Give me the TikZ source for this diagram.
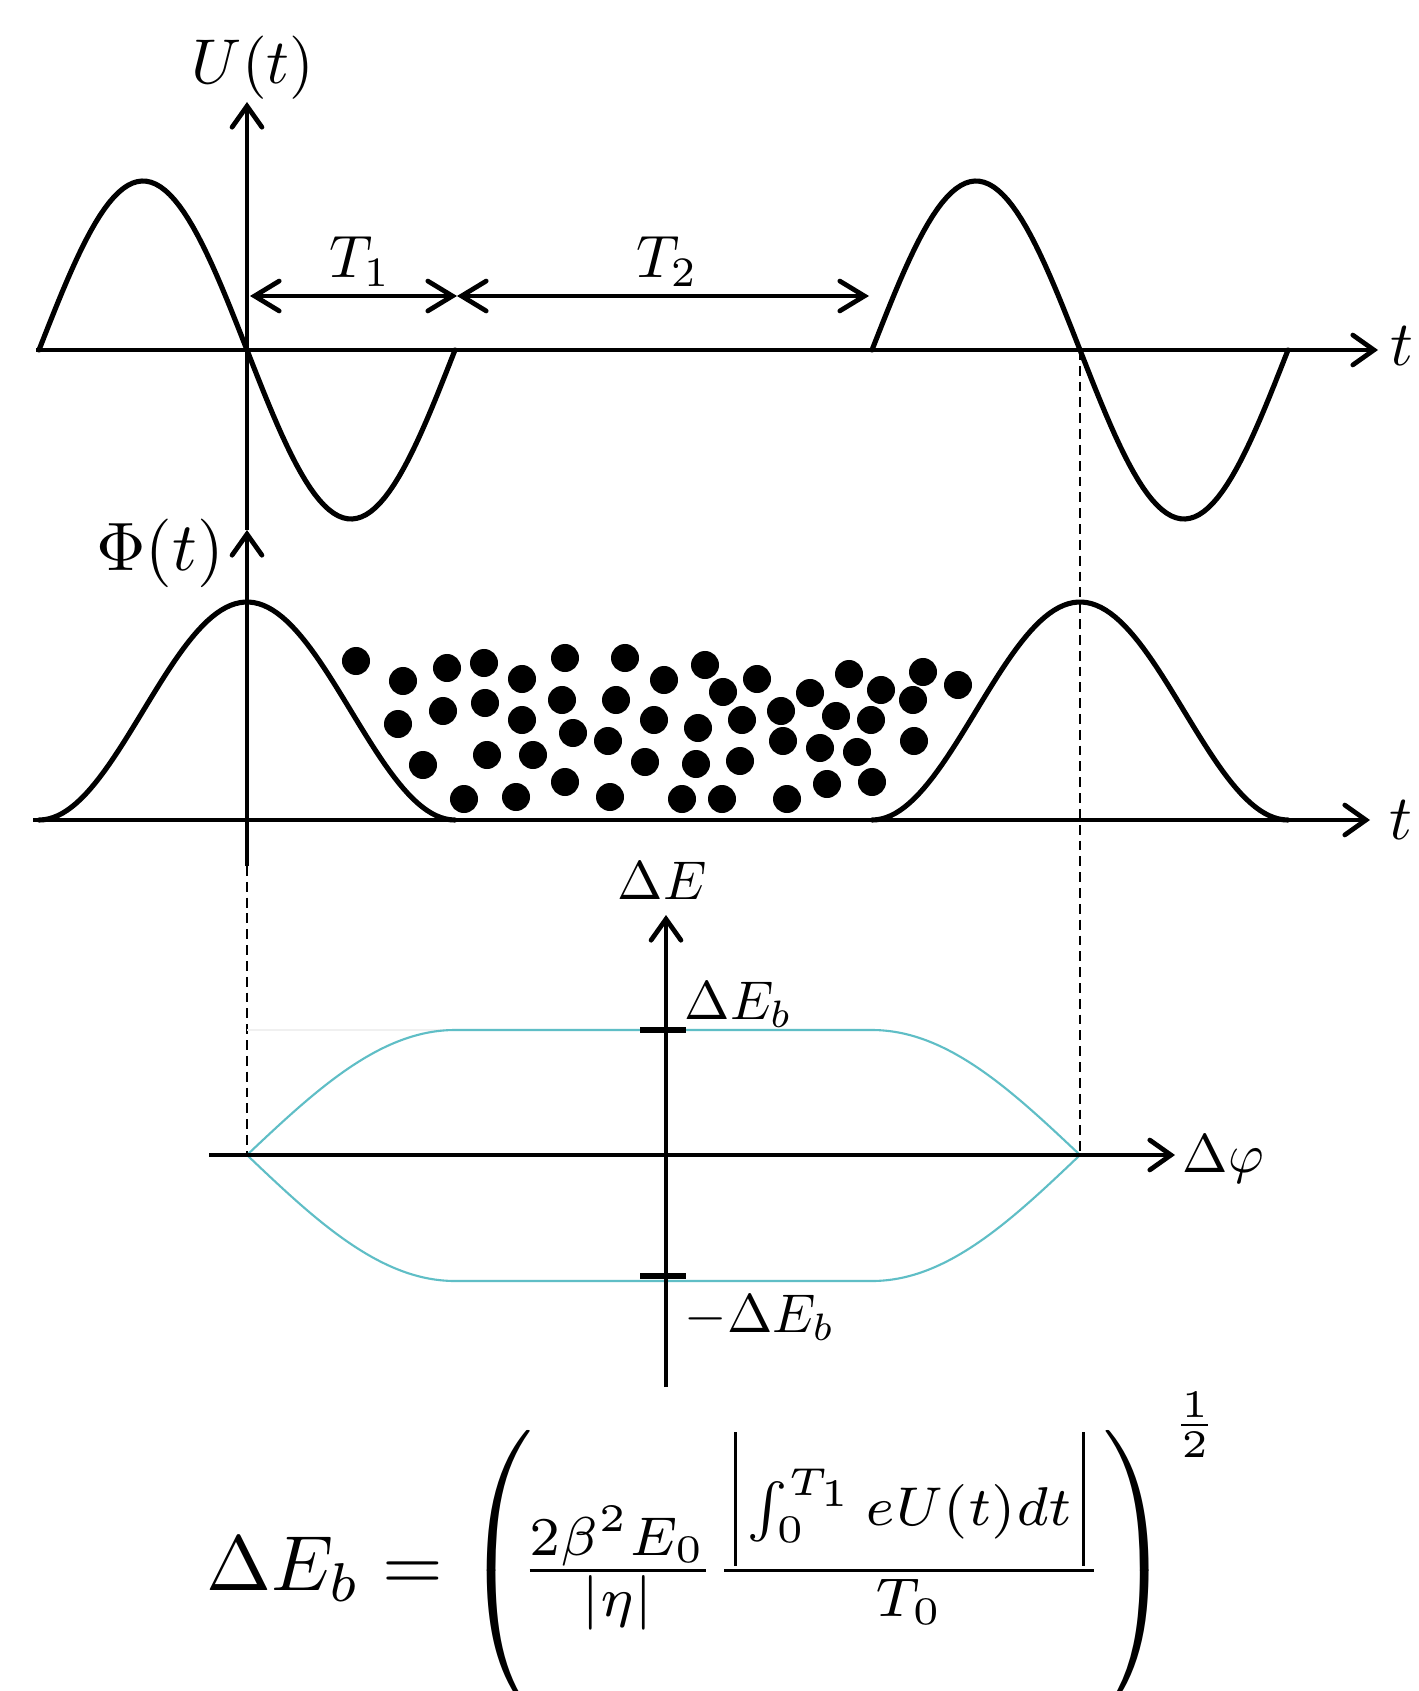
\documentclass[tikz,border=0pt]{standalone}
\usepackage{amsmath}
\usepackage{graphicx}
\usetikzlibrary{arrows.meta}
\definecolor{sepcyan}{RGB}{95,190,198}
\newcommand{\lblbig}[1]{\scalebox{1.8}{#1}}
\newcommand{\lblphi}[1]{\scalebox{1.95}{#1}}
\newcommand{\lblmid}[1]{\scalebox{1.7}{#1}}
\newcommand{\lblsmall}[1]{\scalebox{1.55}{#1}}
\newcommand{\absl}{\mathopen{\hbox{\kern1.2pt\vrule height 12pt depth 5.15pt width 0.42pt\kern1.2pt}}}
\newcommand{\absr}{\mathclose{\hbox{\kern1.2pt\vrule height 12pt depth 5.15pt width 0.42pt\kern1.2pt}}}
\tikzset{
  curve/.style={line width=1.45pt, line join=round, line cap=round},
  axisline/.style={line width=1.35pt, -{Straight Barb[length=6pt,width=8.5pt,line width=1.35pt,line cap=round]}},
  dimline/.style={line width=1.35pt, {Straight Barb[length=7pt,width=8.5pt,line width=1.35pt,line cap=round]}-{Straight Barb[length=7pt,width=8.5pt,line width=1.35pt,line cap=round]}},
  dashline/.style={line width=0.6pt, dash pattern=on 2.8pt off 1.7pt},
  sepline/.style={line width=0.6pt, sepcyan, line join=round},
  tickline/.style={line width=1.5pt},
  dot/.style={fill=black},
  lbl/.style={inner sep=0pt},
}
\begin{document}
\begin{tikzpicture}[x=0.01cm, y=-0.01cm]
\useasboundingbox (0,0) rectangle (1418,1691);
\fill[white] (0,0) rectangle (1418,1691);
\clip (0,0) rectangle (1418,1691);

% ---- coordinates
\coordinate (Vbot) at (247,866);
\coordinate (Phitip) at (247,530);
\coordinate (Utip) at (247,102);
\coordinate (UtS) at (36,350);
\coordinate (UtE) at (1378,350);
\coordinate (PtS) at (33,820);
\coordinate (PtE) at (1370,820);
\coordinate (dEbot) at (666,1387);
\coordinate (dEtip) at (666,915);
\coordinate (dpS) at (209,1155);
\coordinate (dpE) at (1175,1155);
\coordinate (T1a) at (250,296);
\coordinate (T1b) at (457,296);
\coordinate (T2b) at (869,296);
\coordinate (dL) at (247,1155);
\coordinate (dRtop) at (1080,350);
\coordinate (dR) at (1080,1155);
\coordinate (tkAl) at (640,1030);
\coordinate (tkAr) at (686,1030);
\coordinate (tkBl) at (640,1276);
\coordinate (tkBr) at (686,1276);
\coordinate (faintS) at (247,1030);
\coordinate (faintE) at (458,1030);

% ---- dashed guides
\draw[dashline] (Vbot) -- (dL);
\draw[dashline] (dRtop) -- (dR);
\draw[black!6, line width=0.4pt] (faintS) -- (faintE);

% ---- U(t)
\draw[curve] plot[domain=39:455, samples=90] (\x, {350+169*sin(((\x-247)/208)*180)});
\draw[curve] plot[domain=872:1288, samples=90] (\x, {350+169*sin(((\x-1080)/208)*180)});
\draw[axisline] (UtS) -- (UtE);
\draw[dimline] (T1a) -- (T1b);
\draw[dimline] (T1b) -- (T2b);

% ---- Phi(t)
\draw[curve] plot[domain=39:455, samples=90] (\x, {820-109*(1+cos(((\x-247)/208)*180))});
\draw[curve] plot[domain=872:1288, samples=90] (\x, {820-109*(1+cos(((\x-1080)/208)*180))});
\draw[axisline] (PtS) -- (PtE);

% ---- particles
\foreach \px/\py in {356/661,403/681,447/668,484/663,522/679,565/658,625/658,664/680,
  398/724,443/711,485/703,522/720,562/700,616/700,654/720,
  423/765,487/755,533/755,573/733,608/741,645/762,
  464/799,516/797,565/782,610/797,682/799,
  705/665,723/692,757/679,698/728,742/720,781/711,810/693,849/674,881/690,923/672,958/685,
  913/700,836/716,871/720,783/741,820/748,857/752,914/741,696/764,740/761,
  722/799,787/799,827/784,872/782}
  \fill[dot] (\px,\py) circle[radius=0.14cm];

% ---- vertical axes
\draw[axisline] (Vbot) -- (Phitip);
\draw[axisline] (Phitip) -- (Utip);

% ---- phase space
\draw[sepline] plot[domain=247:455, samples=60] (\x, {1155-125*sin(((\x-247)/208)*90)})
  -- plot[domain=872:1080, samples=60] (\x, {1155-125*sin(((1080-\x)/208)*90)});
\draw[sepline] plot[domain=247:455, samples=60] (\x, {1155+126*sin(((\x-247)/208)*90)})
  -- plot[domain=872:1080, samples=60] (\x, {1155+126*sin(((1080-\x)/208)*90)});
\draw[axisline] (dpS) -- (dpE);
\draw[axisline] (dEbot) -- (dEtip);
\draw[tickline] (tkAl) -- (tkAr);
\draw[tickline] (tkBl) -- (tkBr);

% ---- labels
\node[lbl] (Ulab) at (253,68) {\lblbig{$U(t)$}};
\node[lbl] (Philab) at (160,553) {\lblphi{$\Phi(t)$}};
\node[lbl] (T1lab) at (360,262) {\lblmid{$T_1$}};
\node[lbl] (T2lab) at (667,262) {\lblmid{$T_2$}};
\node[lbl] (tlabA) at (1402,346) {\lblbig{$t$}};
\node[lbl] (tlabB) at (1401,820) {\lblbig{$t$}};
\node[lbl] (dElab) at (662,881) {\lblsmall{$\Delta E$}};
\node[lbl, anchor=base west] (dEblab) at (684,1019) {\lblsmall{$\Delta E_b$}};
\node[lbl, anchor=base west] (mdEblab) at (684,1332) {\lblsmall{$-\Delta E_b$}};
\node[lbl, anchor=base west] (dphilab) at (1182,1172) {\lblsmall{$\Delta\varphi$}};

% ---- formula
\node[lbl, anchor=base west] (formula) at (206,1590)
 {\scalebox{2.22}{$\Delta E_b = \left(\vcenter{\hbox{\rule{0pt}{38.7pt}}}\!\frac{2\beta^2E_0}{|\eta|}\frac{\absl\int_0^{T_1} eU(t)dt\absr}{T_0}\right)^{\frac{1}{2}}$}};
\end{tikzpicture}
\end{document}
